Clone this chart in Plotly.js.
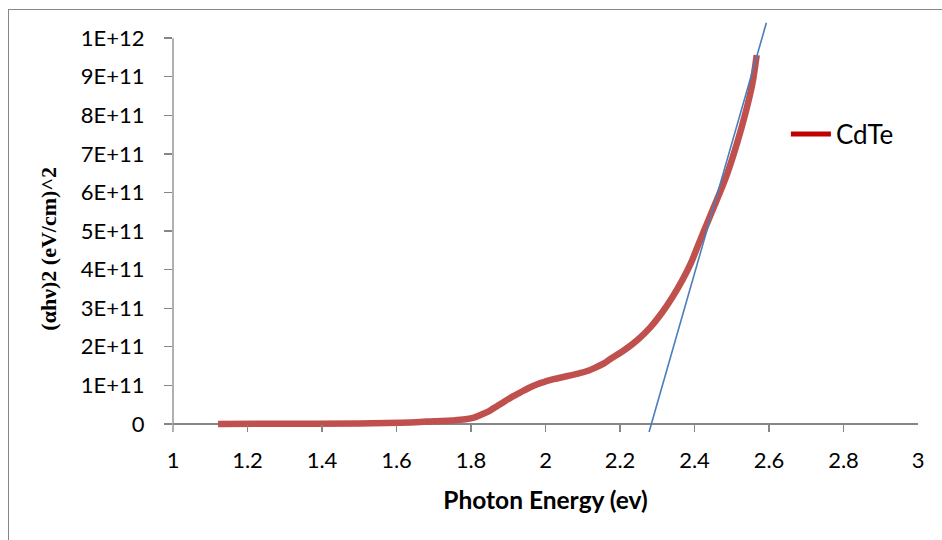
<!DOCTYPE html>
<html><head><meta charset="utf-8">
<script src="https://cdn.plot.ly/plotly-3.0.1.min.js"></script>
<style>
html,body{margin:0;padding:0;overflow:hidden;background:#fff}
#chart{width:942px;height:540px}
#frame{position:absolute;left:8px;top:9px;width:1000px;height:1000px;border:1px solid #868686;pointer-events:none}
</style></head><body>
<div id="chart"></div><div id="frame"></div>
<script>
// Photon energy (eV) and (alpha h nu)^2
const energy = [1.121, 1.3, 1.5, 1.61, 1.664, 1.70, 1.75, 1.785, 1.81, 1.83, 1.85, 1.87, 1.888, 1.91, 1.933, 1.955, 1.978, 2.0, 2.022, 2.045, 2.067, 2.09, 2.112, 2.134, 2.157, 2.175, 2.211, 2.246, 2.282, 2.314, 2.341, 2.367, 2.39, 2.408, 2.426, 2.452, 2.488, 2.515, 2.538, 2.555, 2.567];
const alphaHv2 = [0, 0.5e9, 1.0e9, 3.0e9, 5.0e9, 7.0e9, 9.0e9, 1.2e10, 1.7e10, 2.5e10, 3.4e10, 4.6e10, 5.7e10, 7.0e10, 8.2e10, 9.3e10, 1.03e11, 1.10e11, 1.16e11, 1.21e11, 1.26e11, 1.31e11, 1.37e11, 1.46e11, 1.57e11, 1.69e11, 1.91e11, 2.17e11, 2.51e11, 2.90e11, 3.29e11, 3.72e11, 4.16e11, 4.59e11, 5.02e11, 5.62e11, 6.49e11, 7.30e11, 8.10e11, 8.80e11, 9.56e11];
// linear fit (tangent) end points
const fitX = [2.278, 2.593];
const fitY = [-2.1e10, 1.04e12];
const seriesName = 'CdTe';
const xTicks = [1, 1.2, 1.4, 1.6, 1.8, 2, 2.2, 2.4, 2.6, 2.8, 3];
const xTickText = ['1', '1.2', '1.4', '1.6', '1.8', '2', '2.2', '2.4', '2.6', '2.8', '3'];
const yTicks = [0, 1e11, 2e11, 3e11, 4e11, 5e11, 6e11, 7e11, 8e11, 9e11, 1e12];
const yTickText = ['0', '1E+11', '2E+11', '3E+11', '4E+11', '5E+11', '6E+11', '7E+11', '8E+11', '9E+11', '1E+12'];
const xRange = [1, 3];
const yRange = [-2.1e10, 1.047e12];
const yAxisTop = 1e12;

const axisGray = '#868686';
const tickFont = {family: 'Lato, sans-serif', size: 22, color: '#000'};

const traces = [
  {x: energy, y: alphaHv2, mode: 'lines', line: {color: '#C0504D', width: 6.5, shape: 'spline', smoothing: 1}, showlegend: false, hoverinfo: 'skip'},
  {x: fitX, y: fitY, mode: 'lines', line: {color: '#4A7EBB', width: 1.6}, showlegend: false, hoverinfo: 'skip'},
  {x: [null], y: [null], mode: 'lines', line: {color: '#C00000', width: 5}, name: seriesName, showlegend: true}
];

const layout = {
  width: 942, height: 540,
  margin: {l: 173, r: 24, t: 20, b: 108},
  paper_bgcolor: 'rgba(0,0,0,0)', plot_bgcolor: 'rgba(0,0,0,0)',
  xaxis: {
    range: xRange, tickvals: xTicks, ticktext: xTickText,
    ticks: 'inside', ticklen: 7.5, tickwidth: 1.3, tickcolor: axisGray,
    showline: false, showgrid: false, zeroline: false,
    ticklabelstandoff: 13, tickfont: tickFont,
    title: {text: '<b>Photon Energy (ev)</b>', font: {family: 'Lato, sans-serif', size: 24.5, color: '#000'}, standoff: 19}
  },
  yaxis: {
    range: yRange, tickvals: yTicks, ticktext: yTickText,
    ticks: 'outside', ticklen: 8, tickwidth: 1.3, tickcolor: axisGray,
    showline: false, showgrid: false,
    zeroline: true, zerolinecolor: axisGray, zerolinewidth: 1.3,
    ticklabelstandoff: 15, tickfont: tickFont
  },
  shapes: [
    {type: 'line', xref: 'paper', yref: 'paper', x0: 0, x1: 0, y0: 0,
     y1: (yAxisTop - yRange[0]) / (yRange[1] - yRange[0]),
     line: {color: axisGray, width: 1.3}}
  ],
  annotations: [
    {text: '<b>(αhν)2 (eV/cm)^2</b>', xref: 'paper', yref: 'paper', x: -0.1664, y: 0.445,
     xanchor: 'center', yanchor: 'middle', textangle: -90, showarrow: false,
     font: {family: 'Liberation Serif, serif', size: 22, color: '#000'}}
  ],
  legend: {x: 0.8227, xanchor: 'left', y: 0.7233, yanchor: 'middle', bgcolor: 'rgba(0,0,0,0)',
           font: {family: 'Lato, sans-serif', size: 26, color: '#000'}, itemwidth: 40}
};

Plotly.newPlot('chart', traces, layout, {displayModeBar: false, staticPlot: true});
</script>
</body></html>
